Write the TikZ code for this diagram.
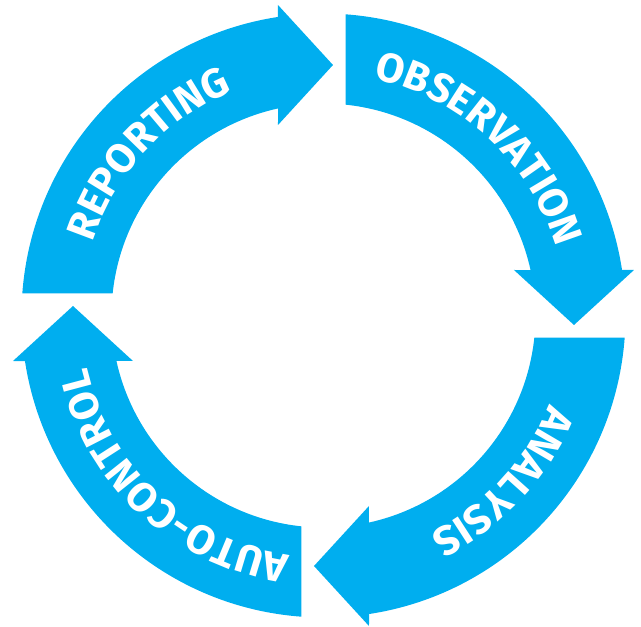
\documentclass[tikz,border=0pt]{standalone}
\usepackage{fontspec}
\setmainfont{Fira Sans}
\usetikzlibrary{decorations.text}
\definecolor{cyclecyan}{RGB}{0,174,239}
\newcommand{\lblfont}{\fontsize{41}{41}\selectfont\bfseries}
\def\cyclearrow(#1)#2% Syntax: (rotation angle){label}
{ \begin{scope}[rotate=#1]
	\fill[cyclecyan] (175.82:302pt) arc (175.82:98.67:302pt) -- (-45.5,310.5) -- (9.5,250.5) -- (-45.5,190.5)
		-- (102.39:212pt) arc (102.39:174.04:212pt) -- cycle;
	\path[decorate, decoration={text along path, text align=center, text color=white, text={|\lblfont|#2}}]
		(175.82:242pt) arc (175.82:98.67:242pt);
  \end{scope} }

\begin{document}
\begin{tikzpicture}[x=1pt, y=1pt]
	\useasboundingbox (-323.5,-311.5) rectangle (317.5,315.5);
	
	%the four arrows, clockwise from the left
	\cyclearrow(0){REPORTING}		%left to top
	\cyclearrow(-90){OBSERVATION}	%top to right
	\cyclearrow(-180){ANALYSIS}		%right to bottom
	\cyclearrow(-270){AUTO-CONTROL}	%bottom to left
\end{tikzpicture}
\end{document}
